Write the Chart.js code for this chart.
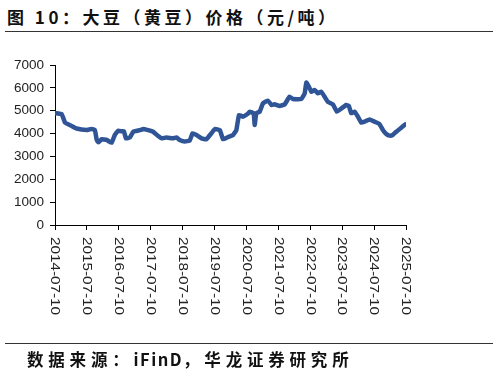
<!DOCTYPE html>
<html>
<head>
<meta charset="utf-8">
<script src="https://cdn.jsdelivr.net/npm/chart.js@4/dist/chart.umd.min.js"></script>
<style>
  body { margin: 0; background: #fff; }
  #wrap { position: relative; width: 499px; height: 377px; overflow: hidden; }
  #chartBox { position: absolute; left: 0; top: 0; width: 499px; height: 377px; }
  .title { position: absolute; left: 7px; top: 4px; font: bold 17px "Noto Sans CJK SC"; letter-spacing: 3.5px; color: #111; white-space: nowrap; }
  .foot { position: absolute; left: 27px; top: 347px; font: bold 16.5px "Noto Sans CJK SC"; letter-spacing: 4.8px; color: #111; white-space: nowrap; }
  .foot span { letter-spacing: 1.5px; }
  .rule { position: absolute; left: 5px; width: 488px; height: 1px; background: #333; }
</style>
</head>
<body>
<div id="wrap">
  <div class="title">图 10：大豆（黄豆）价格（元/吨）</div>
  <div class="rule" style="top:31px"></div>
  <div id="chartBox"><canvas id="soy"></canvas></div>
  <div class="rule" style="top:343px"></div>
  <div class="foot">数据来源：<span>iFinD</span>，华龙证券研究所</div>
</div>
<script>
// months since 2014-07-10
const months = [0, 2.5, 3.8, 6.3, 8.1, 11.9, 13.8, 15.0, 15.7, 16.3, 17.5, 19.4, 21.3, 22.5, 23.8, 25.0, 25.9, 26.7, 28.2, 29.4,
  31.9, 33.2, 35.0, 36.9, 38.8, 40.1, 41.9, 44.4, 45.7, 46.9, 48.8, 50.7, 51.7, 53.2, 55.1, 56.9, 58.8, 60.1, 62.0, 63.2,
  65.1, 67.0, 68.2, 69.2, 70.7, 72.6, 73.2, 74.7, 75.1, 75.7, 77.0, 78.2, 80.1, 81.4, 82.6, 84.5, 86.4, 88.2, 89.5, 92.6,
  93.9, 94.5, 95.5, 96.4, 97.6, 98.9, 100.1, 101.4, 102.6, 104.5, 106.0, 107.7, 109.5, 110.5, 111.4, 112.7, 113.9, 115.2, 116.4, 118.3,
  120.2, 122.0, 123.3, 124.6, 125.8, 127.0, 128.3, 130.2, 131.7];
const prices = [4890, 4850, 4480, 4330, 4220, 4160, 4200, 4150, 3720, 3620, 3750, 3720, 3600, 3940, 4130, 4100, 4100, 3790, 3830, 4080,
  4150, 4200, 4150, 4080, 3890, 3790, 3830, 3790, 3830, 3720, 3650, 3700, 4010, 3940, 3790, 3750, 4010, 4200, 4150, 3750,
  3850, 3940, 4150, 4810, 4740, 4880, 4960, 4890, 4375, 4890, 4960, 5320, 5440, 5250, 5280, 5210, 5280, 5610, 5510, 5510,
  5760, 6230, 6050, 5830, 5910, 5760, 5830, 5610, 5390, 5280, 4960, 5100, 5250, 5210, 4890, 4960, 4740, 4480, 4520, 4620,
  4520, 4420, 4160, 3980, 3910, 3940, 4080, 4260, 4400];
const dateLabels = ["2014-07-10", "2015-07-10", "2016-07-10", "2017-07-10", "2018-07-10", "2019-07-10",
  "2020-07-10", "2021-07-10", "2022-07-10", "2023-07-10", "2024-07-10", "2025-07-10"];
const yTicks = [0, 1000, 2000, 3000, 4000, 5000, 6000, 7000];

const points = months.map((m, i) => ({x: m, y: prices[i]}));

// x labels read top-to-bottom, so draw them ourselves
const verticalLabels = {
  id: "verticalLabels",
  afterDraw(chart) {
    const ctx = chart.ctx;
    const xs = chart.scales.x;
    ctx.save();
    ctx.font = "13.5px 'Liberation Sans'";
    ctx.fillStyle = "#222";
    ctx.textBaseline = "middle";
    ctx.textAlign = "left";
    dateLabels.forEach((lab, i) => {
      const px = xs.getPixelForValue(i * 12);
      const w = ctx.measureText(lab).width;
      ctx.save();
      ctx.translate(px, xs.top + 12);
      ctx.rotate(Math.PI / 2);
      ctx.scale(78 / w, 1);
      ctx.fillText(lab, 0, 0);
      ctx.restore();
    });
    ctx.restore();
  }
};

new Chart(document.getElementById("soy"), {
  type: "line",
  data: {
    datasets: [{
      data: points,
      borderColor: "#2F5597",
      borderWidth: 4.5,
      pointRadius: 0,
      tension: 0.1,
      borderJoinStyle: "round",
      borderCapStyle: "round"
    }]
  },
  options: {
    responsive: true,
    maintainAspectRatio: false,
    animation: false,
    layout: {padding: {top: 65, right: 93, bottom: 142, left: 0}},
    plugins: {legend: {display: false}, tooltip: {enabled: false}},
    scales: {
      x: {
        type: "linear",
        min: 0,
        max: 132,
        ticks: {display: false, stepSize: 12},
        grid: {display: true, drawOnChartArea: false, drawTicks: true, tickLength: 5, color: "#000"},
        border: {color: "#000", width: 1},
        afterFit(s) { s.height = 10; }
      },
      y: {
        min: 0,
        max: 7000,
        afterBuildTicks(s) { s.ticks = yTicks.map(v => ({value: v})); },
        ticks: {color: "#222", padding: 6, font: {family: "Liberation Sans", size: 13.5}, callback: v => String(v)},
        grid: {display: true, drawOnChartArea: false, drawTicks: true, tickLength: 5, color: "#000"},
        border: {color: "#000", width: 1},
        afterFit(s) { s.width = 55; }
      }
    }
  },
  plugins: [verticalLabels]
});
</script>
</body>
</html>
